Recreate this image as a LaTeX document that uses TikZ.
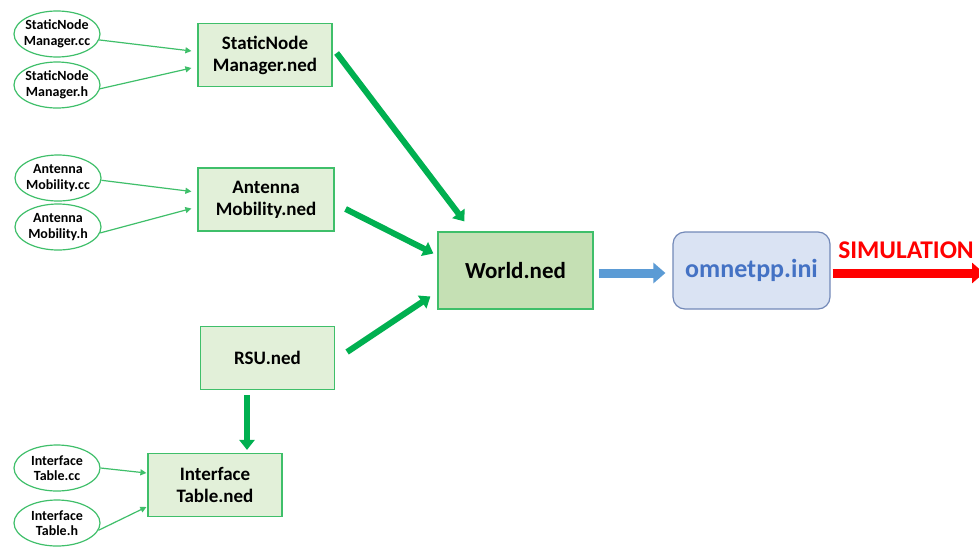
\documentclass[tikz,border=0pt]{standalone}
\usepackage{fontspec}
\setmainfont{Carlito}
\usetikzlibrary{arrows.meta,shapes.geometric}

\definecolor{nedfill}{HTML}{E2F0D9}
\definecolor{worldfill}{HTML}{C5E0B4}
\definecolor{nededge}{HTML}{3FBF6A}
\definecolor{flowgreen}{HTML}{00B050}
\definecolor{inifill}{HTML}{DAE3F3}
\definecolor{iniedge}{HTML}{7389B8}
\definecolor{initext}{HTML}{4472C4}
\definecolor{iniarrow}{HTML}{5B9BD5}
\definecolor{simred}{HTML}{FF0000}

\tikzset{
  srcfile/.style={ellipse, draw=nededge, line width=1.2pt, fill=white,
    minimum width=86pt, minimum height=46pt, inner xsep=-8pt, inner ysep=-4pt,
    align=center, font=\fontsize{14}{15.5}\selectfont\bfseries},
  nedbox/.style={rectangle, draw=nededge, line width=1.2pt, fill=nedfill,
    minimum width=134pt, minimum height=63pt, inner sep=0pt, align=center,
    font=\fontsize{19}{22}\selectfont\bfseries},
  worldbox/.style={nedbox, fill=worldfill, minimum width=155pt, minimum height=77pt,
    font=\fontsize{23}{26}\selectfont\bfseries},
  inibox/.style={rectangle, rounded corners=12pt, draw=iniedge, line width=1.2pt,
    fill=inifill, minimum width=157pt, minimum height=77pt, inner sep=0pt,
    text=initext, font=\fontsize{26}{30}\selectfont\bfseries},
  thinflow/.style={draw=nededge, line width=1.2pt,
    -{Triangle[length=6pt,width=6pt]}},
  thickflow/.style={draw=flowgreen, line width=6pt,
    -{Triangle[length=10pt,width=15pt]}},
  iniflow/.style={draw=iniarrow, line width=9pt,
    -{Triangle[length=12pt,width=20pt]}},
  simflow/.style={draw=simred, line width=9pt,
    -{Triangle[length=12pt,width=20pt]}},
}

\begin{document}
\begin{tikzpicture}[x=1pt,y=-1pt]
  \useasboundingbox[fill=white] (0,0) rectangle (979,546);

  % source files
  \node[srcfile] (e1) at (57,34)  {StaticNode\\Manager.cc};
  \node[srcfile] (e2) at (57,85)  {StaticNode\\Manager.h};
  \node[srcfile] (e3) at (58,178) {Antenna\\Mobility.cc};
  \node[srcfile] (e4) at (58,227) {Antenna\\Mobility.h};
  \node[srcfile] (e5) at (57,468) {Interface\\Table.cc};
  \node[srcfile] (e6) at (57,523) {Interface\\Table.h};

  % NED modules
  \node[nedbox] (snm) at (265,55)    {StaticNode\\Manager.ned};
  \node[nedbox, minimum width=136pt] (am) at (266,199.5) {Antenna\\Mobility.ned};
  \node[nedbox] (rsu) at (267.5,358) {RSU.ned};
  \node[nedbox] (it) at (215,485)    {Interface\\Table.ned};
  \node[worldbox] (world) at (515.5,270.5) {World.ned};

  % configuration
  \node[inibox] (ini) at (751.5,270.5) {omnetpp.ini};
  \coordinate (simend) at (984,273);
  \node[text=simred, font=\fontsize{25.5}{28}\selectfont\bfseries, inner sep=0pt]
    (simlabel) at (906,250) {SIMULATION};

  % source files into modules
  \draw[thinflow] (e1.-8) -- ([xshift=-6pt,yshift=4pt]snm.west);
  \draw[thinflow] (e2.-5) -- ([xshift=-6pt,yshift=-13pt]snm.west);
  \draw[thinflow] (e3.-3) -- ([xshift=-6pt,yshift=8pt]am.west);
  \draw[thinflow] (e4.-8) -- ([xshift=-6pt,yshift=-9pt]am.west);
  \draw[thinflow] (e5.east) -- ([xshift=-1pt,yshift=12pt]it.west);
  \draw[thinflow] (e6.-10) -- ([xshift=-1pt,yshift=-22pt]it.west);

  % modules into the network
  \draw[thickflow] ([xshift=4pt,yshift=2pt]snm.east) -- ([xshift=27pt,yshift=10pt]world.north west);
  \draw[thickflow] ([xshift=11pt,yshift=-9.5pt]am.east) -- ([xshift=-4pt,yshift=17pt]world.west);
  \draw[thickflow] ([xshift=12pt,yshift=6pt]rsu.east) -- ([xshift=-7pt,yshift=-26pt]world.west);
  \draw[thickflow] ([xshift=-20.5pt,yshift=-5pt]rsu.south) -- ([xshift=32pt,yshift=3pt]it.north);

  % network to configuration to simulation
  \draw[iniflow] ([xshift=5pt,yshift=-2.5pt]world.east) -- ([xshift=-7pt,yshift=-2.5pt]ini.west);
  \draw[simflow] ([xshift=2pt,yshift=-2.5pt]ini.east) -- (simend);
\end{tikzpicture}
\end{document}
